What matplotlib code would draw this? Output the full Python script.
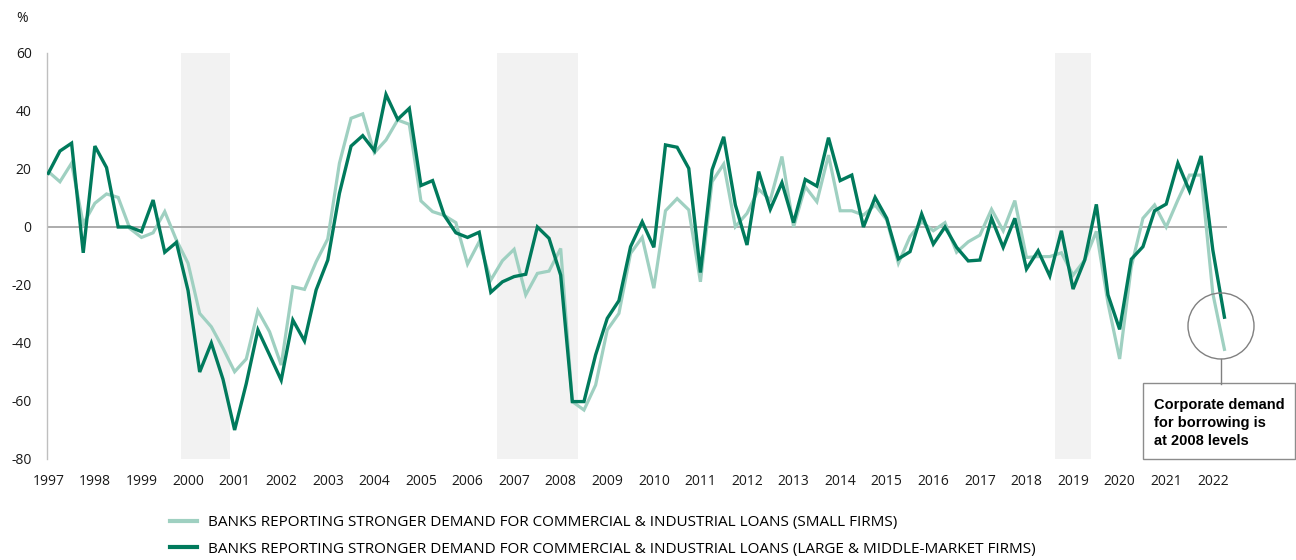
import numpy as np
import matplotlib
matplotlib.use("Agg")
import matplotlib.pyplot as plt
from matplotlib.patches import Rectangle, Ellipse
from matplotlib.lines import Line2D

plt.rcParams["axes.unicode_minus"] = False

# quarterly survey readings, % of banks reporting stronger demand, 1997Q1 onwards
small_firms = [
    19.1, 15.6, 22, 1, 8.2, 11.4, 10.2, -0.5, -3.6, -2,
    5.3, -4.5, -12.5, -29.8, -34.4, -41.8, -49.9, -45.5, -28.9, -36.1,
    -47.6, -20.6, -21.5, -12, -4.1, 22, 37.5, 39, 25.6, 30,
    36.9, 35.4, 9, 5.3, 4, 1.5, -12.8, -5.1, -18.3, -11.6,
    -7.7, -23.4, -16, -15.2, -7.4, -60.2, -63.1, -54.5, -35.5, -29.8,
    -9.1, -3.6, -21.1, 5.6, 9.8, 5.9, -18.9, 15.6, 21.7, 0.1,
    4.7, 13, 9.3, 24.3, 0, 13.9, 8.7, 24.8, 5.6, 5.6,
    4.1, 7.6, 2.4, -12.5, -3.3, 1.8, -1.3, 1.5, -8.7, -5.1,
    -2.8, 6.1, -1.3, 9.1, -10.5, -10.2, -10.2, -8.9, -16.6, -11.4,
    -1.5, -26.3, -45.5, -13.7, 3, 7.6, 0, 9.3, 17.9, 17.9,
    -22.9, -42.2,
]
large_firms = [
    18.5, 26.2, 28.9, -8.9, 27.9, 20.5, 0, 0, -1.6, 9.3,
    -8.7, -5.3, -21.9, -50, -40, -52.5, -70, -54, -35.5, -44.1,
    -52.8, -32.1, -39.3, -21.7, -11.4, 11.6, 27.9, 31.5, 26.3, 45.7,
    37.1, 40.9, 14.3, 16, 4, -2, -3.6, -1.8, -22.5, -18.9,
    -17.1, -16.3, 0, -3.9, -16.6, -60.2, -60.2, -44.1, -31.5, -25.4,
    -6.8, 1.8, -7, 28.3, 27.5, 20.2, -15.7, 19.7, 31.1, 7.6,
    -6.2, 19.1, 6.1, 15.3, 1.5, 16.4, 14.1, 30.8, 16, 17.9,
    0, 10.2, 3, -11, -8.5, 4.5, -5.9, 0, -7, -11.7,
    -11.4, 3, -7, 3, -14.5, -8.2, -16.9, -1.3, -21.4, -11.4,
    7.8, -23.4, -35.3, -11.1, -6.8, 5.6, 7.9, 22, 12.4, 24.5,
    -7.9, -31.1,
]
start_year = 1997
year_ticks = list(range(1997, 2023))
recessions = [(1999.85, 2000.90), (2006.63, 2008.37), (2018.61, 2019.38)]

labels = [
    "BANKS REPORTING STRONGER DEMAND FOR COMMERCIAL & INDUSTRIAL LOANS (SMALL FIRMS)",
    "BANKS REPORTING STRONGER DEMAND FOR COMMERCIAL & INDUSTRIAL LOANS (LARGE & MIDDLE-MARKET FIRMS)",
]
note = "Corporate demand\nfor borrowing is\nat 2008 levels"

light = "#9fd0c1"
dark = "#007a5c"
W, H = 1296, 560


def fx(x):
    return x / W


def fy(y):
    return 1 - y / H


quarters = start_year + np.arange(len(large_firms)) / 4

fig = plt.figure(figsize=(W / 100, H / 100), dpi=100)
ax = fig.add_axes([fx(47), fy(459), (W - 47) / W, 406 / H])
x0 = start_year - 1.3 / 46.58
ax.set_xlim(x0, x0 + (W - 47) / 46.58)
ax.set_ylim(-80, 60)

for s, e in recessions:
    ax.axvspan(s, e, color="#f2f2f2", lw=0, zorder=0)

ax.hlines(0, x0, quarters[-1] + 0.05, color="#a6a6a6", lw=1.3, zorder=1)
ax.plot(quarters, small_firms, color=light, lw=2.3, zorder=2, solid_joinstyle="miter")
ax.plot(quarters, large_firms, color=dark, lw=2.4, zorder=3, solid_joinstyle="miter")

for side in ["top", "right", "bottom"]:
    ax.spines[side].set_visible(False)
ax.spines["left"].set_color("#bfbfbf")
ax.spines["left"].set_linewidth(1)

ax.set_xticks(year_ticks)
ax.set_yticks(range(-80, 61, 20))
ax.tick_params(axis="both", length=0, labelsize=10, labelcolor="#1a1a1a")
ax.tick_params(axis="y", pad=11)
ax.tick_params(axis="x", pad=11)
for lab in ax.get_xticklabels() + ax.get_yticklabels():
    lab.set_family("Open Sans")

fig.text(fx(22), fy(18), "%", ha="center", va="center", fontsize=10,
         family="Open Sans", color="#1a1a1a")

# callout: circle around the latest readings, stem and text box
fig.add_artist(Ellipse((fx(1221), fy(326)), 66 / W, 66 / H, transform=fig.transFigure,
                       fill=False, ec="#808080", lw=1))
fig.add_artist(Line2D([fx(1221), fx(1221)], [fy(359), fy(384)], color="#808080", lw=1))
fig.add_artist(Rectangle((fx(1143), fy(459)), 152 / W, 76 / H, transform=fig.transFigure,
                         fill=False, ec="#8c8c8c", lw=1))
fig.text(fx(1154), fy(398), note, ha="left", va="top", fontsize=10.5,
         fontweight="bold", family="Liberation Sans", linespacing=1.38)

handles = [Line2D([], [], color=light, lw=3), Line2D([], [], color=dark, lw=3)]
fig.legend(handles, labels, loc="upper left", bbox_to_anchor=(fx(170), fy(515)),
           frameon=False, borderpad=0, borderaxespad=0, handlelength=1.77,
           handletextpad=0.72, labelspacing=0.76,
           prop={"family": "Open Sans", "size": 11})

fig.savefig("out.png", dpi=100)
